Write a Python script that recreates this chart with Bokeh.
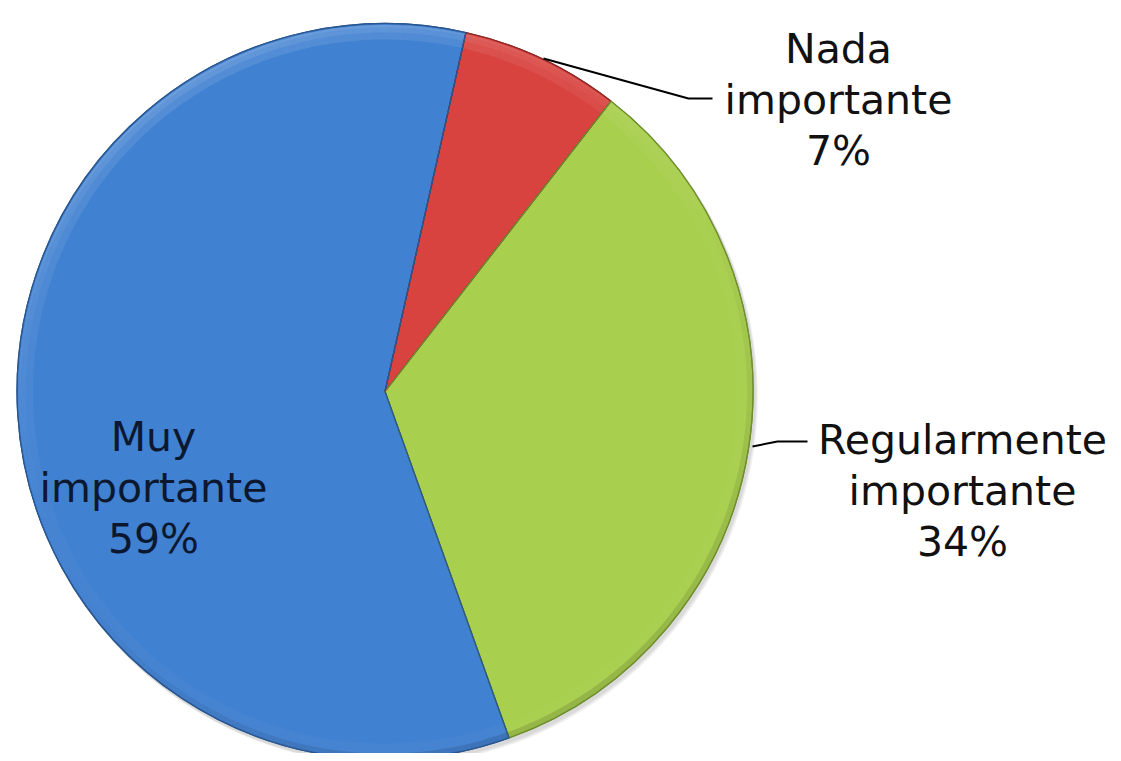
import numpy as np
from bokeh.plotting import figure
from bokeh.models import Range1d, ColumnDataSource
from bokeh.core.properties import value
from bokeh.embed import file_html
from bokeh.resources import INLINE

# ---- data ----
categories = ["Nada importante", "Regularmente importante", "Muy importante"]
percent = [7, 34, 59]
label_lines = [["Nada", "importante", "7%"],
               ["Regularmente", "importante", "34%"],
               ["Muy", "importante", "59%"]]
colors = ["#d8433f", "#a8cf4d", "#4181d1"]
edge_colors = ["#8e2a28", "#6f8f2e", "#2a568f"]

# ---- layout (pixel-like data coordinates, y up) ----
W, H = 1113, 753
def Y(y_img):
    return H - y_img

cx, cy = 384.5, Y(391)
R = 368
start_from_top = 12.7  # degrees clockwise from 12 o'clock

p = figure(width=W, height=H, output_backend="svg", toolbar_location=None,
           x_range=Range1d(0, W), y_range=Range1d(0, H),
           min_border=0, outline_line_color=None)
p.axis.visible = False
p.grid.visible = False
p.background_fill_color = "white"
p.border_fill_color = "white"

vals = np.array(percent, dtype=float)
cum = np.concatenate([[0], np.cumsum(vals)]) / vals.sum() * 360.0
base = 90.0 - start_from_top
starts = np.radians(base - cum[1:])
ends = np.radians(base - cum[:-1])

# soft shadow
for k, a in enumerate([0.05, 0.05, 0.05]):
    p.wedge(x=cx + 2 + k, y=cy - 3 - k, radius=R + 1, start_angle=0, end_angle=2 * np.pi,
            fill_color="#000000", fill_alpha=a, line_color=None)

src = ColumnDataSource(dict(start=starts, end=ends, color=colors, edge=edge_colors, cat=categories))
p.wedge(x=cx, y=cy, radius=R, start_angle="start", end_angle="end", source=src,
        fill_color="color", line_color="edge", line_width=1.2)

# bevel highlight near rim (lighter at top-left)
seg = np.radians(2.0)
for s, e in zip(starts, ends):
    n = max(1, int(np.ceil((e - s) / seg)))
    edges = np.linspace(s, e, n + 1)
    mids = (edges[:-1] + edges[1:]) / 2
    strength = np.clip(np.cos(mids - np.radians(115)), 0, None) ** 1.5
    for (inner, outer, amax) in [(R - 16, R - 9, 0.07), (R - 9, R - 4, 0.14), (R - 4, R - 1.5, 0.2)]:
        p.annular_wedge(x=cx, y=cy, inner_radius=inner, outer_radius=outer,
                        start_angle=edges[:-1], end_angle=edges[1:],
                        fill_color="white", fill_alpha=amax * strength + 0.03, line_color=None)
    # darker edge at lower-right
    dark = np.clip(np.cos(mids - np.radians(-60)), 0, None)
    p.annular_wedge(x=cx, y=cy, inner_radius=R - 6, outer_radius=R - 0.5,
                    start_angle=edges[:-1], end_angle=edges[1:],
                    fill_color="black", fill_alpha=0.12 * dark, line_color=None)

# outer rim line
p.wedge(x=cx, y=cy, radius=R, start_angle="start", end_angle="end", source=src,
        fill_color=None, line_color="edge", line_width=1.2)

# leader lines
p.line(x=[543, 688, 712], y=[Y(58), Y(98), Y(98)], line_color="black", line_width=2)
p.line(x=[752, 777, 807], y=[Y(446), Y(441), Y(441)], line_color="black", line_width=2)

# labels
label_x = [838, 962, 153]
label_base = [48, 439, 436]
spacing = 51
tx, ty, tt, tc = [], [], [], []
for i, lines in enumerate(label_lines):
    for j, t in enumerate(lines):
        tx.append(label_x[i])
        ty.append(Y(label_base[i] + j * spacing))
        tt.append(t)
        tc.append("#0c1830" if i == 2 else "#111111")
p.text(x=tx, y=ty, text=tt, text_color=tc, text_align="center", text_baseline="alphabetic",
       text_font=value("DejaVu Sans"), text_font_size="41px")

open("out.html", "w").write(file_html(p, INLINE))
